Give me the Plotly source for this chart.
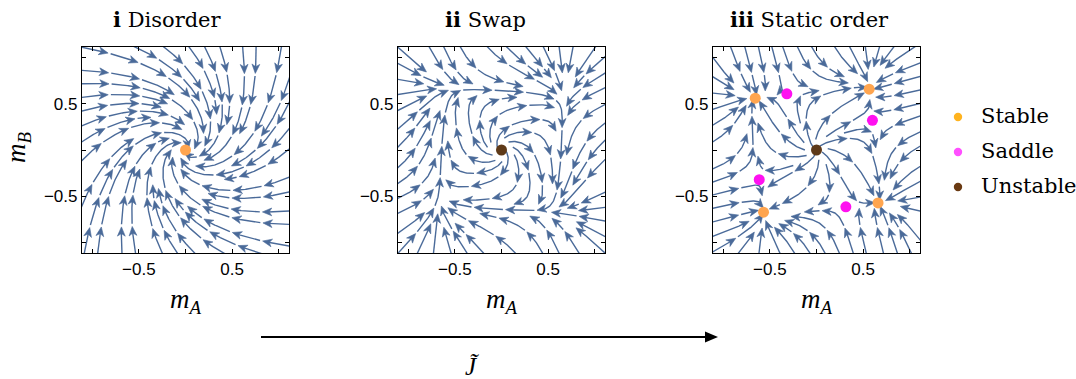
import math
import numpy as np
import plotly.graph_objects as go

# ---------------- data ----------------
panel_titles = ["<b>i</b> Disorder", "<b>ii</b> Swap", "<b>iii</b> Static order"]
# mean-field couplings for panels i and ii:
# dm_A/dt = -m_A + tanh(J m_A + K m_B),  dm_B/dt = -m_B + tanh(J m_B - K m_A)
coupling_J = [0.30, 1.60]
coupling_K = [0.70, 0.44]
swap_cycle_half = 0.62

# fixed points (m_A, m_B)
p1_stable_x, p1_stable_y = [0.0], [0.0]
p2_unstable_x, p2_unstable_y = [0.0], [0.0]
p3_stable_x = [0.565, -0.657, -0.568, 0.660]
p3_stable_y = [0.655, 0.559, -0.670, -0.570]
p3_saddle_x = [0.600, -0.318, -0.614, 0.315]
p3_saddle_y = [0.320, 0.606, -0.320, -0.612]
p3_unstable_x, p3_unstable_y = [0.0], [0.0]

label_vals = [-0.5, 0.5]
label_text = ["−0.5", "0.5"]
minor_vals = [-1.0, 0.0, 1.0]
legend_labels = ["Stable", "Saddle", "Unstable"]

# ---------------- styling ----------------
W, H = 1076, 379
LIM = 1.11
STREAM = "#4A6A99"
C_STABLE = "#FFA54F"
C_SADDLE = "#FF10F0"
C_UNSTABLE = "#5E3A19"
L_STABLE = "#FFB31F"
L_SADDLE = "#FF4FFF"
L_UNSTABLE = "#6A3A12"
box_left = [82, 398, 713]
box_w = 207
box_top, box_bot = 47, 253


def make_field(J, K, phi=0.0, scale=1.0):
    c, s = math.cos(phi), math.sin(phi)
    th = math.tanh

    def f(x, y):
        x, y = x / scale, y / scale
        xr = c * x + s * y
        yr = -s * x + c * y
        u = -xr + th(J * xr + K * yr)
        v = -yr + th(J * yr - K * xr)
        return c * u - s * v, s * u + c * v
    return f


def m_star(J):
    m = 1.0
    for _ in range(2000):
        m = math.tanh(J * m)
    return m


# ---------- fit panel iii model (rotated mean-field) to the read fixed points ----------
def fit_panel3():
    ang = -np.arange(4) * np.pi / 2
    sx, sy = np.array(p3_saddle_x), np.array(p3_saddle_y)
    px, py = np.array(p3_stable_x), np.array(p3_stable_y)
    stx = np.mean(np.cos(ang) * sx - np.sin(ang) * sy)
    sty = np.mean(np.sin(ang) * sx + np.cos(ang) * sy)
    ptx = np.mean(np.cos(ang) * px - np.sin(ang) * py)
    pty = np.mean(np.sin(ang) * px + np.cos(ang) * py)

    Js = np.linspace(1.04, 1.8, 153)
    Ks = np.linspace(0.002, 0.2, 100)
    JJ, KK = np.meshgrid(Js, Ks, indexing="ij")

    def solve(x0, y0):
        x = np.full(JJ.shape, x0)
        y = np.full(JJ.shape, y0)
        for _ in range(120):
            ta = np.tanh(JJ * x + KK * y)
            tb = np.tanh(JJ * y - KK * x)
            f1, f2 = -x + ta, -y + tb
            sa, sb = 1 - ta ** 2, 1 - tb ** 2
            j11, j12 = -1 + JJ * sa, KK * sa
            j21, j22 = -KK * sb, -1 + JJ * sb
            det = j11 * j22 - j12 * j21
            det = np.where(np.abs(det) < 1e-12, 1e-12, det)
            dx = (j22 * f1 - j12 * f2) / det
            dy = (-j21 * f1 + j11 * f2) / det
            x = x - np.clip(dx, -0.05, 0.05)
            y = y - np.clip(dy, -0.05, 0.05)
        ta = np.tanh(JJ * x + KK * y)
        tb = np.tanh(JJ * y - KK * x)
        res = np.abs(-x + ta) + np.abs(-y + tb)
        sa, sb = 1 - ta ** 2, 1 - tb ** 2
        j11, j12 = -1 + JJ * sa, KK * sa
        j21, j22 = -KK * sb, -1 + JJ * sb
        return x, y, res, j11 * j22 - j12 * j21, j11 + j22

    def collect(starts, cond):
        bx = np.full(JJ.shape, np.nan)
        by = np.full(JJ.shape, np.nan)
        for (x0, y0) in starts:
            x, y, res, det, tr = solve(x0, y0)
            ok = cond(x, y, res, det, tr) & np.isnan(bx)
            bx = np.where(ok, x, bx)
            by = np.where(ok, y, by)
        return bx, by

    sxm, sym = collect([(0.65, 0.02), (0.65, 0.12), (0.65, 0.22), (0.65, 0.32)],
                       lambda x, y, r, d, t: (r < 1e-8) & (d < 0) & (x > 0.3) & (y > -0.01) & (y < x))
    pxm, pym = collect([(0.7, 0.5), (0.65, 0.6), (0.75, 0.4)],
                       lambda x, y, r, d, t: (r < 1e-8) & (d > 0) & (t < 0) & (y > 0.2) & (x > 0.2))
    phis = np.radians(np.arange(-15, 35.01, 0.25))
    cph, sph = np.cos(phis), np.sin(phis)
    S0, S1 = sxm[..., None], sym[..., None]
    P0, P1 = pxm[..., None], pym[..., None]
    rsx, rsy = cph * S0 - sph * S1, sph * S0 + cph * S1
    rpx, rpy = cph * P0 - sph * P1, sph * P0 + cph * P1
    cost = (rsx - stx) ** 2 + (rsy - sty) ** 2 + (rpx - ptx) ** 2 + (rpy - pty) ** 2
    cost = np.where(np.isnan(cost), 1e9, cost)
    i, j, k = np.unravel_index(np.argmin(cost), cost.shape)
    J, K, phi = JJ[i, j], KK[i, j], phis[k]
    sp = (sxm[i, j], sym[i, j])
    pp = (pxm[i, j], pym[i, j])
    fps = [(0.0, 0.0)]
    for q in range(4):
        a = phi + q * np.pi / 2
        for (qx, qy) in (sp, pp):
            fps.append((math.cos(a) * qx - math.sin(a) * qy, math.sin(a) * qx + math.cos(a) * qy))
    return J, K, phi, fps


# ---------------- evenly spaced streamlines ----------------
def streamlines(f, fps, dsep=0.14, dtest=0.06, h=0.01, maxlen=9.0):
    cell = dsep
    grid = {}

    def key(x, y):
        return (int(math.floor((x + 2) / cell)), int(math.floor((y + 2) / cell)))

    def near(x, y, d):
        i, j = key(x, y)
        d2 = d * d
        for di in (-1, 0, 1):
            for dj in (-1, 0, 1):
                for (qx, qy) in grid.get((i + di, j + dj), ()):
                    if (qx - x) ** 2 + (qy - y) ** 2 < d2:
                        return True
        return False

    gap_idx = int(2.5 * dsep / h)

    def trace(x0, y0, sign):
        pts = [(x0, y0)]
        own = {}
        x, y = x0, y0
        for n in range(int(maxlen / h)):
            u, v = f(x, y)
            sp = math.hypot(u, v)
            if sp < 1e-6:
                break
            xm, ym = x + 0.5 * h * sign * u / sp, y + 0.5 * h * sign * v / sp
            u, v = f(xm, ym)
            sp = math.hypot(u, v)
            if sp < 1e-6:
                break
            xn, yn = x + h * sign * u / sp, y + h * sign * v / sp
            if abs(xn) > LIM + 0.02 or abs(yn) > LIM + 0.02:
                pts.append((xn, yn))
                break
            hit = False
            for (fx, fy) in fps:
                if (xn - fx) ** 2 + (yn - fy) ** 2 < 0.035 ** 2:
                    hit = True
                    break
            if hit:
                pts.append((xn, yn))
                break
            if near(xn, yn, dtest):
                break
            kk = key(xn, yn)
            stop = False
            idx = len(pts)
            for di in (-1, 0, 1):
                for dj in (-1, 0, 1):
                    for (qx, qy, qi) in own.get((kk[0] + di, kk[1] + dj), ()):
                        if idx - qi > gap_idx and (qx - xn) ** 2 + (qy - yn) ** 2 < (0.9 * dsep) ** 2:
                            stop = True
                            break
                    if stop:
                        break
                if stop:
                    break
            if stop:
                break
            pts.append((xn, yn))
            own.setdefault(kk, []).append((xn, yn, idx))
            x, y = xn, yn
        return pts

    lines = []
    base = dsep * 0.5
    n = int(2 * LIM / base) + 1
    cand = []
    seen = set()
    for lev in (8, 4, 2, 1):
        for i in range(0, n, lev):
            for j in range(0, n, lev):
                if (i, j) in seen:
                    continue
                seen.add((i, j))
                cand.append((-LIM + 0.03 + i * base, -LIM + 0.03 + j * base))
    queue = []
    ci = 0
    while True:
        if queue:
            sx, sy = queue.pop(0)
        elif ci < len(cand):
            sx, sy = cand[ci]
            ci += 1
        else:
            break
        if abs(sx) > LIM - 0.01 or abs(sy) > LIM - 0.01:
            continue
        if near(sx, sy, dsep * 0.98):
            continue
        if any((sx - fx) ** 2 + (sy - fy) ** 2 < 0.06 ** 2 for (fx, fy) in fps):
            continue
        bwd = trace(sx, sy, -1.0)
        fwd = trace(sx, sy, 1.0)
        pts = bwd[::-1] + fwd[1:]
        if len(pts) < 14:
            continue
        arr = np.array(pts)
        lines.append(arr)
        for (qx, qy) in pts:
            grid.setdefault(key(qx, qy), []).append((qx, qy))
        step = max(1, int(0.5 * dsep / h))
        for m in range(0, len(pts) - 1, step):
            tx, ty = arr[m + 1] - arr[m]
            nn = math.hypot(tx, ty) + 1e-12
            nx, ny = -ty / nn, tx / nn
            queue.append((arr[m, 0] + dsep * nx, arr[m, 1] + dsep * ny))
            queue.append((arr[m, 0] - dsep * nx, arr[m, 1] - dsep * ny))
    return lines


def arrow_geometry(lines, L=0.31, gap=0.028, a=0.10, w=0.042):
    lx, ly, ax_, ay_ = [], [], [], []
    for arr in lines:
        d = np.hypot(np.diff(arr[:, 0]), np.diff(arr[:, 1]))
        arc = np.concatenate([[0.0], np.cumsum(d)])
        total = arc[-1]
        segs = []
        s = 0.0
        while s < total - 0.02:
            e = min(s + L, total)
            segs.append([s, e])
            s = e + gap
        if len(segs) > 1 and segs[-1][1] - segs[-1][0] < 0.12:
            segs[-2][1] = segs[-1][1]
            segs.pop()
        for (s, e) in segs:
            has_head = (e - s) >= 0.11
            e_line = e - 0.6 * a if has_head else e
            ss = np.linspace(s, e_line, max(2, int((e_line - s) / 0.01) + 1))
            lx.extend(np.interp(ss, arc, arr[:, 0]).tolist() + [None])
            ly.extend(np.interp(ss, arc, arr[:, 1]).tolist() + [None])
            if has_head:
                tipx, tipy = np.interp(e, arc, arr[:, 0]), np.interp(e, arc, arr[:, 1])
                bx, by = np.interp(e - a, arc, arr[:, 0]), np.interp(e - a, arc, arr[:, 1])
                tx, ty = tipx - bx, tipy - by
                nn = math.hypot(tx, ty) + 1e-12
                tx, ty = tx / nn, ty / nn
                nx, ny = -ty, tx
                bx, by = tipx - a * tx, tipy - a * ty
                mx, my = tipx - 0.72 * a * tx, tipy - 0.72 * a * ty
                ax_.extend([tipx, bx + w * nx, mx, bx - w * nx, tipx, None])
                ay_.extend([tipy, by + w * ny, my, by - w * ny, tipy, None])
    return lx, ly, ax_, ay_


J3, K3, PHI3, FPS3 = fit_panel3()
swap_scale = swap_cycle_half / m_star(coupling_J[1])

models = [
    (make_field(coupling_J[0], coupling_K[0]), [(0.0, 0.0)]),
    (make_field(coupling_J[1], coupling_K[1], 0.0, swap_scale), [(0.0, 0.0)]),
    (make_field(J3, K3, PHI3), FPS3),
]

fig = go.Figure()
for p, (f, fps) in enumerate(models):
    xa = "x" if p == 0 else "x%d" % (p + 1)
    ya = "y" if p == 0 else "y%d" % (p + 1)
    lines = streamlines(f, fps)
    lx, ly, hx, hy = arrow_geometry(lines)
    fig.add_trace(go.Scatter(x=lx, y=ly, mode="lines", xaxis=xa, yaxis=ya,
                             line=dict(color=STREAM, width=1.4), hoverinfo="skip", showlegend=False))
    fig.add_trace(go.Scatter(x=hx, y=hy, mode="lines", fill="toself", fillcolor=STREAM, xaxis=xa, yaxis=ya,
                             line=dict(color=STREAM, width=0.6), hoverinfo="skip", showlegend=False))

dot = 11
fig.add_trace(go.Scatter(x=p1_stable_x, y=p1_stable_y, mode="markers", xaxis="x", yaxis="y",
                         marker=dict(size=dot, color=C_STABLE), showlegend=False))
fig.add_trace(go.Scatter(x=p2_unstable_x, y=p2_unstable_y, mode="markers", xaxis="x2", yaxis="y2",
                         marker=dict(size=dot, color=C_UNSTABLE), showlegend=False))
fig.add_trace(go.Scatter(x=p3_stable_x, y=p3_stable_y, mode="markers", xaxis="x3", yaxis="y3",
                         marker=dict(size=dot, color=C_STABLE), showlegend=False))
fig.add_trace(go.Scatter(x=p3_saddle_x, y=p3_saddle_y, mode="markers", xaxis="x3", yaxis="y3",
                         marker=dict(size=dot, color=C_SADDLE), showlegend=False))
fig.add_trace(go.Scatter(x=p3_unstable_x, y=p3_unstable_y, mode="markers", xaxis="x3", yaxis="y3",
                         marker=dict(size=dot, color=C_UNSTABLE), showlegend=False))

tickfont = dict(family="Liberation Sans, Arial", size=17, color="black")
yd = [1 - box_bot / H, 1 - box_top / H]
layout = dict(width=W, height=H, margin=dict(l=0, r=0, t=0, b=0),
              paper_bgcolor="white", plot_bgcolor="white", showlegend=False)
for p in range(3):
    sfx = "" if p == 0 else str(p + 1)
    axcommon = dict(range=[-LIM, LIM], tickvals=label_vals, ticktext=label_text, ticks="inside",
                    ticklen=4, tickwidth=1, tickcolor="black", showline=True, linecolor="black",
                    linewidth=1.2, mirror="ticks", showgrid=False, zeroline=False,
                    tickfont=tickfont, fixedrange=True,
                    minor=dict(tickvals=minor_vals, ticks="inside", ticklen=4, tickwidth=1,
                               tickcolor="black", showgrid=False))
    layout["xaxis" + sfx] = dict(domain=[box_left[p] / W, (box_left[p] + box_w) / W],
                                 anchor="y" + sfx, **axcommon)
    layout["yaxis" + sfx] = dict(domain=yd, anchor="x" + sfx, **axcommon)
fig.update_layout(**layout)

serif = "DejaVu Serif"
mfont = dict(family="Liberation Serif", size=27, color="black")
ann = []
title_cx = [167, 485.5, 809]
for p in range(3):
    ann.append(dict(text=panel_titles[p], x=title_cx[p] / W, y=1 - 20 / H, xref="paper", yref="paper",
                    showarrow=False, xanchor="center", yanchor="middle",
                    font=dict(family=serif, size=21, color="black")))
    ann.append(dict(text="<i>m<sub>A</sub></i>", x=(box_left[p] + box_w / 2) / W, y=1 - 301 / H,
                    xref="paper", yref="paper", showarrow=False, xanchor="center", yanchor="middle",
                    font=mfont))
ann.append(dict(text="<i>m<sub>B</sub></i>", x=18 / W, y=1 - 147 / H, xref="paper", yref="paper",
                showarrow=False, textangle=-90, xanchor="center", yanchor="middle", font=mfont))
ann.append(dict(text="<i>J\u0303</i>", x=472 / W, y=1 - 366 / H, xref="paper", yref="paper",
                showarrow=False, xanchor="center", yanchor="middle",
                font=dict(family="Liberation Serif", size=25, color="black")))
leg_y = [117, 152, 187]
leg_c = [L_STABLE, L_SADDLE, L_UNSTABLE]
shapes = []
for i in range(3):
    ann.append(dict(text=legend_labels[i], x=979 / W, y=1 - (leg_y[i] - 1) / H, xref="paper", yref="paper",
                    showarrow=False, xanchor="left", yanchor="middle",
                    font=dict(family=serif, size=21, color="black")))
    shapes.append(dict(type="circle", xref="paper", yref="paper", xsizemode="pixel", ysizemode="pixel",
                       xanchor=958 / W, yanchor=1 - leg_y[i] / H, x0=-4.2, x1=4.2, y0=-4.2, y1=4.2,
                       fillcolor=leg_c[i], line=dict(width=0)))
shapes.append(dict(type="line", xref="paper", yref="paper", x0=261 / W, x1=708 / W,
                   y0=1 - 337 / H, y1=1 - 337 / H, line=dict(color="black", width=2)))
shapes.append(dict(type="path", xref="paper", yref="paper",
                   path="M %f,%f L %f,%f L %f,%f Z" % (705 / W, 1 - 331.5 / H, 718 / W, 1 - 337 / H,
                                                      705 / W, 1 - 342.5 / H),
                   fillcolor="black", line=dict(width=0)))
fig.update_layout(annotations=ann, shapes=shapes)
fig.write_html("out.html")
